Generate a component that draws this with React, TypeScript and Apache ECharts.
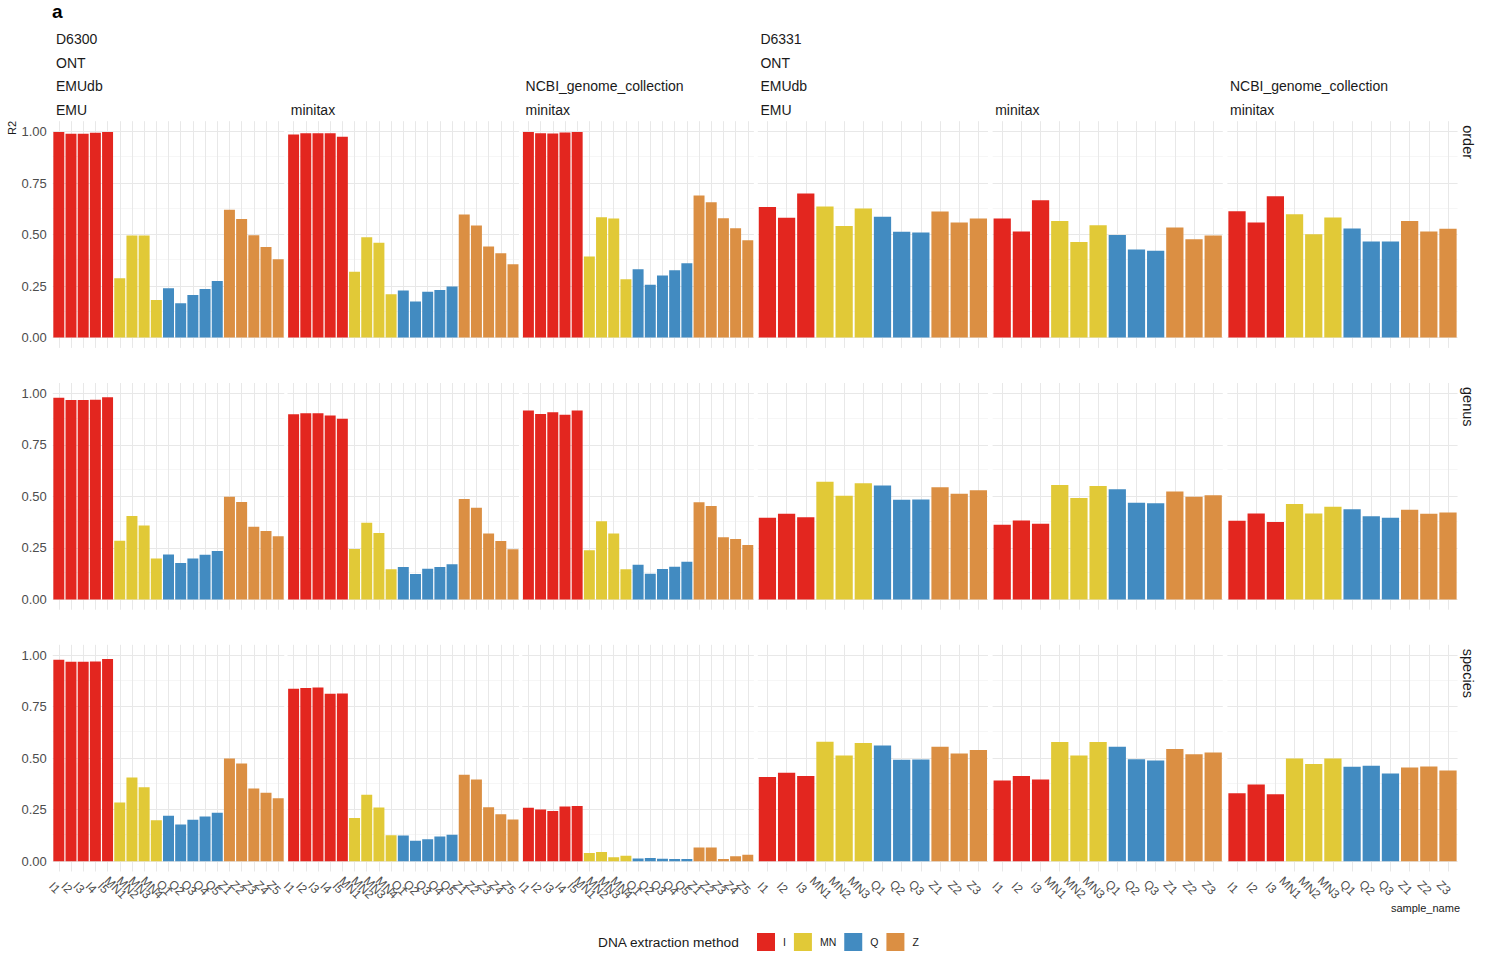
import React, { useEffect, useRef } from "react";
import * as echarts from "echarts";

// ---------------- data ----------------
const catsD6300 = ["I1", "I2", "I3", "I4", "I5", "MN1", "MN2", "MN3", "MN4", "Q1", "Q2", "Q3", "Q4", "Q5", "Z1", "Z2", "Z3", "Z4", "Z5"];
const catsD6331 = ["I1", "I2", "I3", "MN1", "MN2", "MN3", "Q1", "Q2", "Q3", "Z1", "Z2", "Z3"];
const methods = ["I", "MN", "Q", "Z"];
const methodColors = ["#E3261F", "#E1C937", "#428BC1", "#DB8F43"];
const rowNames = ["order", "genus", "species"];
const yTicks = [0, 0.25, 0.5, 0.75, 1];
const yMinor = [0.125, 0.375, 0.625, 0.875];

// strip labels per column (4 nested levels: mock community, platform, database, classifier)
const stripLines = [
  ["D6300", "ONT", "EMUdb", "EMU"],
  ["", "", "", "minitax"],
  ["", "", "NCBI_genome_collection", "minitax"],
  ["D6331", "ONT", "EMUdb", "EMU"],
  ["", "", "", "minitax"],
  ["", "", "NCBI_genome_collection", "minitax"],
];

// order
const orderD6300EMU = [0.997, 0.989, 0.989, 0.994, 0.997, 0.288, 0.495, 0.495, 0.183, 0.239, 0.167, 0.207, 0.236, 0.275, 0.62, 0.576, 0.497, 0.44, 0.38];
const orderD6300Minitax = [0.985, 0.992, 0.992, 0.992, 0.974, 0.32, 0.487, 0.46, 0.21, 0.228, 0.175, 0.222, 0.231, 0.248, 0.597, 0.544, 0.442, 0.409, 0.356];
const orderD6300NCBI = [0.997, 0.992, 0.99, 0.995, 0.998, 0.393, 0.584, 0.578, 0.283, 0.332, 0.256, 0.301, 0.327, 0.361, 0.689, 0.657, 0.579, 0.531, 0.472];
const orderD6331EMU = [0.634, 0.581, 0.699, 0.636, 0.542, 0.626, 0.586, 0.513, 0.51, 0.612, 0.558, 0.578];
const orderD6331Minitax = [0.578, 0.515, 0.667, 0.566, 0.464, 0.545, 0.498, 0.427, 0.421, 0.534, 0.477, 0.495];
const orderD6331NCBI = [0.613, 0.558, 0.686, 0.599, 0.502, 0.583, 0.529, 0.466, 0.466, 0.566, 0.515, 0.528];

// genus
const genusD6300EMU = [0.979, 0.968, 0.968, 0.969, 0.981, 0.285, 0.405, 0.359, 0.199, 0.218, 0.176, 0.199, 0.217, 0.235, 0.498, 0.472, 0.353, 0.332, 0.306];
const genusD6300Minitax = [0.898, 0.903, 0.903, 0.892, 0.877, 0.244, 0.372, 0.322, 0.146, 0.157, 0.123, 0.149, 0.157, 0.17, 0.487, 0.445, 0.32, 0.283, 0.243];
const genusD6300NCBI = [0.916, 0.9, 0.908, 0.896, 0.916, 0.239, 0.379, 0.32, 0.146, 0.168, 0.125, 0.147, 0.159, 0.183, 0.471, 0.453, 0.301, 0.293, 0.264];
const genusD6331EMU = [0.396, 0.416, 0.398, 0.571, 0.503, 0.563, 0.553, 0.484, 0.485, 0.544, 0.513, 0.529];
const genusD6331Minitax = [0.362, 0.383, 0.367, 0.555, 0.492, 0.55, 0.534, 0.469, 0.466, 0.523, 0.498, 0.505];
const genusD6331NCBI = [0.382, 0.417, 0.375, 0.463, 0.417, 0.45, 0.437, 0.403, 0.396, 0.435, 0.416, 0.422];

// species
const speciesD6300EMU = [0.977, 0.968, 0.968, 0.969, 0.981, 0.285, 0.406, 0.359, 0.199, 0.22, 0.178, 0.201, 0.217, 0.235, 0.498, 0.474, 0.353, 0.332, 0.306];
const speciesD6300Minitax = [0.837, 0.84, 0.843, 0.812, 0.814, 0.209, 0.322, 0.261, 0.126, 0.125, 0.099, 0.107, 0.12, 0.128, 0.419, 0.396, 0.262, 0.228, 0.202];
const speciesD6300NCBI = [0.259, 0.251, 0.244, 0.265, 0.268, 0.04, 0.045, 0.019, 0.026, 0.013, 0.016, 0.012, 0.011, 0.011, 0.066, 0.066, 0.011, 0.024, 0.031];
const speciesD6331EMU = [0.409, 0.429, 0.413, 0.579, 0.513, 0.573, 0.561, 0.492, 0.494, 0.555, 0.523, 0.539];
const speciesD6331Minitax = [0.392, 0.413, 0.396, 0.578, 0.513, 0.578, 0.555, 0.495, 0.489, 0.545, 0.519, 0.528];
const speciesD6331NCBI = [0.33, 0.372, 0.325, 0.498, 0.472, 0.498, 0.458, 0.463, 0.426, 0.455, 0.46, 0.44];

const panelValues = [
  [orderD6300EMU, orderD6300Minitax, orderD6300NCBI, orderD6331EMU, orderD6331Minitax, orderD6331NCBI],
  [genusD6300EMU, genusD6300Minitax, genusD6300NCBI, genusD6331EMU, genusD6331Minitax, genusD6331NCBI],
  [speciesD6300EMU, speciesD6300Minitax, speciesD6300NCBI, speciesD6331EMU, speciesD6331Minitax, speciesD6331NCBI],
];

// ---------------- layout ----------------
const FONT = "'Liberation Sans', Arial, Helvetica, sans-serif";
const PANEL_LEFT0 = 51.5;
const PANEL_STEP = 234.8;
const PANEL_W = 234;
const ROW_TOP0 = 121.2;
const ROW_STEP = 261.8;
const PANEL_H = 226.7;
const GRID_MAJOR = "#E8E8E8";
const GRID_MINOR = "#F2F2F2";
const TEXT_DARK = "#1A1A1A";
const TEXT_AXIS = "#4D4D4D";

const methodOf = (cat: string) => cat.replace(/\d+$/, "");

function buildOption() {
  const grid: any[] = [];
  const xAxis: any[] = [];
  const yAxis: any[] = [];
  const series: any[] = [];
  const graphic: any[] = [];

  for (let r = 0; r < 3; r++) {
    for (let c = 0; c < 6; c++) {
      const idx = r * 6 + c;
      const cats = c < 3 ? catsD6300 : catsD6331;
      const n = cats.length;
      const u = PANEL_W / (n + 0.2);
      const L = PANEL_LEFT0 + PANEL_STEP * c;
      const top = ROW_TOP0 + ROW_STEP * r;
      grid.push({ left: L + 0.1 * u, top, width: n * u, height: PANEL_H, containLabel: false });
      xAxis.push({
        type: "category",
        gridIndex: idx,
        data: cats,
        boundaryGap: true,
        axisLine: { show: false },
        axisTick: { show: false },
        splitLine: { show: false },
        axisLabel:
          r === 2
            ? {
                show: true,
                interval: 0,
                rotate: -45,
                align: "center",
                verticalAlign: "top",
                margin: 12,
                fontSize: 12,
                fontFamily: FONT,
                color: TEXT_AXIS,
              }
            : { show: false },
      });
      yAxis.push({
        type: "value",
        gridIndex: idx,
        min: -0.05,
        max: 1.05,
        axisLine: { show: false },
        axisTick: { show: false },
        splitLine: { show: false },
        axisLabel:
          c === 0
            ? {
                show: true,
                customValues: yTicks,
                formatter: (v: number) => v.toFixed(2),
                fontSize: 13,
                fontFamily: FONT,
                color: TEXT_AXIS,
                margin: 6,
              }
            : { show: false },
      });
      const values = panelValues[r][c];
      methods.forEach((m, mi) => {
        const s: any = {
          type: "bar",
          name: m,
          xAxisIndex: idx,
          yAxisIndex: idx,
          stack: "s" + idx,
          barCategoryGap: "10%",
          z: 2,
          itemStyle: { color: methodColors[mi] },
          emphasis: { disabled: true },
          data: cats.map((cat, i) => (methodOf(cat) === m ? values[i] : null)),
        };
        if (mi === 0) {
          s.markLine = {
            silent: true,
            z: 1,
            symbol: ["none", "none"],
            label: { show: false },
            emphasis: { disabled: true },
            lineStyle: { type: "solid", color: GRID_MAJOR, width: 1 },
            data: [
              ...yMinor.map((v) => ({ yAxis: v, lineStyle: { type: "solid", color: GRID_MINOR, width: 0.7 } })),
              ...yTicks.map((v) => ({ yAxis: v, lineStyle: { type: "solid", color: GRID_MAJOR, width: 1 } })),
              ...cats.map((cat) => ({ xAxis: cat, lineStyle: { type: "solid", color: GRID_MAJOR, width: 1 } })),
            ],
          };
        }
        series.push(s);
      });
    }
    // row strip label (right)
    graphic.push({
      type: "text",
      x: 1468,
      y: ROW_TOP0 + ROW_STEP * r + 4,
      rotation: -Math.PI / 2,
      style: { text: rowNames[r], font: `14.5px ${FONT}`, fill: TEXT_DARK, align: "left", verticalAlign: "middle" },
    });
  }

  // column strip labels (top)
  const stripY = [39, 62.5, 86, 110];
  stripLines.forEach((lines, c) => {
    lines.forEach((t, li) => {
      if (!t) return;
      graphic.push({
        type: "text",
        x: PANEL_LEFT0 + PANEL_STEP * c + 4.5,
        y: stripY[li],
        style: { text: t, font: `14px ${FONT}`, fill: TEXT_DARK, align: "left", verticalAlign: "middle" },
      });
    });
  });

  graphic.push(
    { type: "text", x: 52, y: 11, style: { text: "a", font: `bold 19px ${FONT}`, fill: "#000", align: "left", verticalAlign: "middle" } },
    { type: "text", x: 12, y: 121, rotation: Math.PI / 2, style: { text: "R2", font: `11px ${FONT}`, fill: TEXT_DARK, align: "right", verticalAlign: "middle" } },
    { type: "text", x: 1460, y: 908, style: { text: "sample_name", font: `11px ${FONT}`, fill: TEXT_DARK, align: "right", verticalAlign: "middle" } },
    { type: "text", x: 598, y: 942, style: { text: "DNA extraction method", font: `13.7px ${FONT}`, fill: TEXT_DARK, align: "left", verticalAlign: "middle" } }
  );

  return {
    animation: false,
    backgroundColor: "#ffffff",
    textStyle: { fontFamily: FONT },
    grid,
    xAxis,
    yAxis,
    series,
    graphic,
    legend: {
      data: methods,
      left: 757,
      top: 933,
      padding: 0,
      orient: "horizontal",
      itemWidth: 18,
      itemHeight: 18,
      itemGap: 8,
      icon: "rect",
      selectedMode: false,
      textStyle: { fontSize: 10.5, fontFamily: FONT, color: TEXT_DARK, padding: [0, 0, 0, 3] },
    },
  };
}

export default function App() {
  const ref = useRef<HTMLDivElement>(null);
  useEffect(() => {
    if (!ref.current) return;
    const chart = echarts.init(ref.current, undefined, { renderer: "svg" });
    chart.setOption(buildOption() as any);
    return () => chart.dispose();
  }, []);
  return <div ref={ref} style={{ position: "absolute", left: 0, top: 0, width: 1504, height: 964, background: "#fff" }} />;
}
